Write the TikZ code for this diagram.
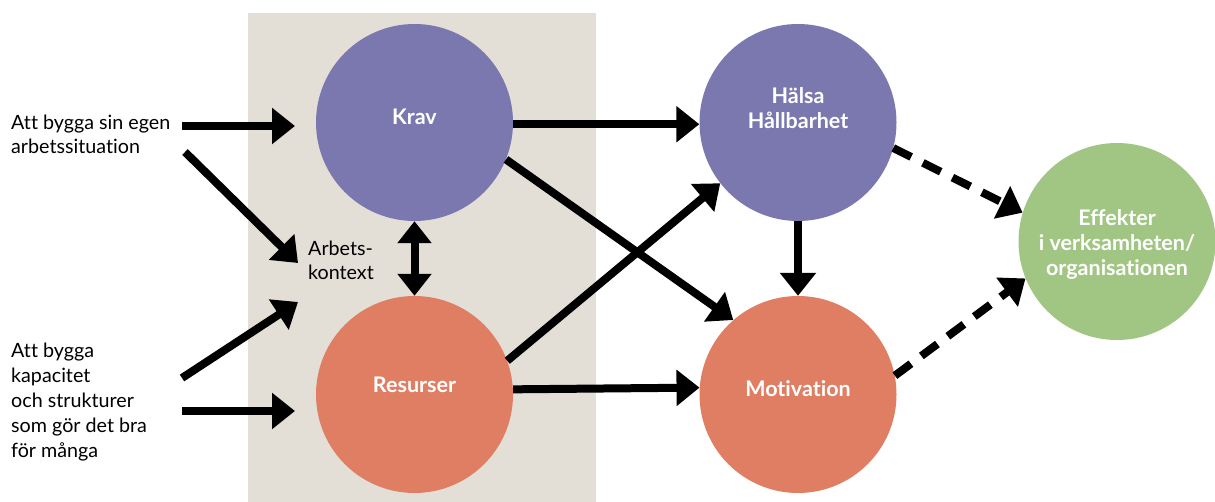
\documentclass[tikz,border=0pt]{standalone}
\usepackage{fontspec}
\setmainfont{Lato}[Ligatures=NoCommon]
\usetikzlibrary{arrows.meta}
\definecolor{cpurple}{HTML}{7B78B0}
\definecolor{corange}{HTML}{E07E63}
\definecolor{cgreen}{HTML}{A1C684}
\definecolor{cbeige}{HTML}{E3DFD7}
\tikzset{
  circ/.style={circle, minimum size=197pt, inner sep=0pt, draw=none},
  ctxt/.style={font=\bfseries\fontsize{21.5}{25}\selectfont, text=white, align=center, inner sep=0pt},
  btxt/.style={font=\fontsize{19.7}{24.5}\selectfont, align=left, inner sep=0pt, anchor=west},
  arr/.style={line width=8pt, -{Triangle[length=23pt,width=35pt]}},
  darr/.style={line width=8pt, {Triangle[length=22pt,width=33pt]}-{Triangle[length=22pt,width=33pt]}},
  dasharr/.style={arr, dash pattern=on 20pt off 13pt},
}
\begin{document}
\begin{tikzpicture}[x=1pt,y=-1pt]
\useasboundingbox (0,0) rectangle (1215,502);
% background panel
\fill[cbeige] (248,13) rectangle (596,502);
% circles
\node[circ, fill=cpurple] (Krav) at (414.5,122.5) {};
\node[circ, fill=corange] (Resurser) at (414.5,394.5) {};
\node[circ, fill=cpurple] (Halsa) at (798,122.5) {};
\node[circ, fill=corange] (Motivation) at (798,394.5) {};
\node[circ, fill=cgreen] (Effekter) at (1117,241.5) {};
% circle texts
\node[ctxt] (kravtxt) at (414.5,116.5) {Krav};
\node[ctxt] (resurstxt) at (414.5,385) {Resurser};
\node[ctxt] (halsatxt) at (798,108) {Hälsa\\Hållbarhet};
\node[ctxt] (motivtxt) at (798,389) {Motivation};
\node[ctxt] (effekttxt) at (1117,244) {Effekter\\i verksamheten/\\organisationen};
% side texts
\node[btxt] (egen) at (11,134.5) {Att bygga sin egen\\arbetssituation};
\node[btxt, font=\fontsize{19.7}{25}\selectfont] (kapacitet) at (11,402) {Att bygga\\kapacitet\\och strukturer\\som gör det bra\\för många};
\node[btxt, font=\fontsize{19.7}{24}\selectfont] (kontext) at (308,260.5) {Arbets-\\kontext};
% free ends
\coordinate (s1) at (182,126);
\coordinate (t1) at (295,126);
\coordinate (s2) at (185,152);
\coordinate (t2) at (298,263);
\coordinate (s3) at (182,378);
\coordinate (t3) at (298,302);
\coordinate (s4) at (182,411);
\coordinate (t4) at (295,411);
% left arrows
\draw[arr] (s1) -- (t1);
\draw[arr] (s2) -- (t2);
\draw[arr] (s3) -- (t3);
\draw[arr] (s4) -- (t4);
% middle
\draw[darr] (Krav.south) -- (Resurser.north);
\draw[arr] (Krav.-1.5) -- (Halsa.181.5);
\draw[arr] (Resurser.3.2) -- (Motivation.176.8);
\draw[arr] (Krav.-22) -- (Motivation.131.9);
\draw[arr] (Resurser.20.5) -- (Halsa.218.6);
\draw[arr] (Halsa.south) -- (Motivation.north);
% dashed
\draw[dasharr] (Halsa.-15) -- (Effekter.163);
\draw[dasharr] (Motivation.11.4) -- (Effekter.202);
\end{tikzpicture}
\end{document}
